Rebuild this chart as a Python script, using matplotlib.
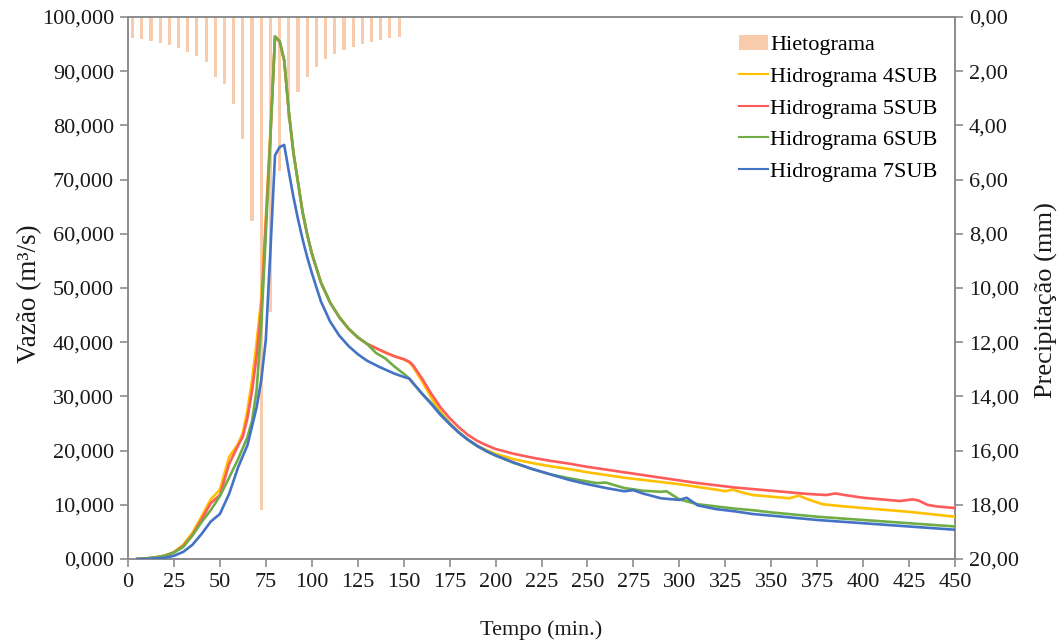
import matplotlib
matplotlib.use("Agg")
import matplotlib.pyplot as plt
from matplotlib.ticker import FuncFormatter, MultipleLocator
from matplotlib.patches import Patch
from matplotlib.lines import Line2D

# Hyetograph (5-min blocks, mm)
rain_time = [2.5, 7.5, 12.5, 17.5, 22.5, 27.5, 32.5, 37.5, 42.5, 47.5,
             52.5, 57.5, 62.5, 67.5, 72.5, 77.5, 82.5, 87.5, 92.5, 97.5,
             102.5, 107.5, 112.5, 117.5, 122.5, 127.5, 132.5, 137.5, 142.5, 147.5]
rain_mm = [0.76, 0.82, 0.89, 0.97, 1.03, 1.16, 1.28, 1.44, 1.67, 2.23,
           2.47, 3.21, 4.51, 7.51, 18.19, 10.89, 5.69, 3.78, 2.78, 2.23,
           1.83, 1.55, 1.37, 1.22, 1.09, 0.98, 0.91, 0.84, 0.79, 0.74]

# Hydrographs (time in min, discharge in m³/s)
t_4sub = [5, 10, 15, 20, 25, 30, 35, 40, 45, 50, 55, 60, 62.5, 65, 67.5, 70, 72.5, 75, 77.5, 80,
          82.5, 85, 87.5, 90, 92.5, 95, 97.5, 100, 105, 110, 115, 120, 125, 130, 135, 140, 145,
          150, 153, 155, 160, 165, 170, 175, 180, 185, 190, 195, 200, 210, 220, 230, 240, 250,
          260, 270, 280, 290, 300, 310, 320, 325, 329, 335, 340, 350, 360, 365, 370, 378, 390,
          400, 425, 450]
q_4sub = [0, 0.1, 0.3, 0.6, 1.3, 2.6, 4.8, 7.8, 11.0, 12.8, 18.8, 21.3, 23.3, 27.5, 33, 40, 48,
          63, 79, 96.4, 95.5, 92, 82.5, 75, 69.5, 64, 59.9, 56.4, 51, 47.3, 44.6, 42.5, 40.9, 39.7,
          38.9, 38.1, 37.4, 36.8, 36.3, 35.5, 32.8, 29.8, 27.2, 25.1, 23.4, 22.0, 20.9, 20.1, 19.4,
          18.4, 17.7, 17.1, 16.6, 16.0, 15.5, 15.0, 14.6, 14.2, 13.8, 13.3, 12.8, 12.5, 12.8, 12.2,
          11.8, 11.5, 11.2, 11.7, 11.0, 10.1, 9.7, 9.4, 8.7, 7.8]

t_5sub = [5, 10, 15, 20, 25, 30, 35, 40, 45, 50, 55, 60, 62.5, 65, 67.5, 70, 72.5, 75, 77.5, 80,
          82.5, 85, 87.5, 90, 92.5, 95, 97.5, 100, 105, 110, 115, 120, 125, 130, 135, 140, 145,
          150, 153, 155, 160, 165, 170, 175, 180, 185, 190, 195, 200, 210, 220, 230, 240, 250,
          260, 270, 280, 290, 300, 310, 320, 330, 340, 350, 360, 370, 380, 385, 390, 400, 410,
          420, 427, 430, 435, 440, 450]
q_5sub = [0, 0.1, 0.3, 0.6, 1.2, 2.4, 4.4, 7.3, 10.3, 11.8, 17.5, 21.0, 22.6, 26, 31, 37.5, 46,
          62, 78, 96.4, 95.5, 92, 82.5, 75, 69.5, 64, 59.9, 56.4, 51, 47.3, 44.6, 42.5, 40.9, 39.7,
          38.9, 38.1, 37.4, 36.9, 36.4, 35.8, 33.3, 30.5, 28.0, 26.0, 24.3, 22.9, 21.8, 21.0, 20.3,
          19.4, 18.7, 18.1, 17.6, 17.0, 16.5, 16.0, 15.5, 15.0, 14.5, 14.0, 13.6, 13.2, 12.9, 12.6,
          12.3, 12.0, 11.8, 12.1, 11.8, 11.3, 11.0, 10.7, 11.0, 10.8, 10.0, 9.7, 9.4]

t_6sub = [5, 10, 15, 20, 25, 30, 35, 40, 45, 50, 55, 60, 65, 67.5, 70, 72.5, 75, 77.5, 80, 82.5,
          85, 87.5, 90, 92.5, 95, 97.5, 100, 105, 110, 115, 120, 125, 130, 135, 140, 145, 150,
          153, 155, 160, 165, 170, 175, 180, 185, 190, 195, 200, 210, 220, 230, 240, 250, 255,
          260, 265, 270, 280, 290, 293, 300, 310, 320, 330, 340, 350, 375, 400, 425, 450]
q_6sub = [0, 0.1, 0.3, 0.6, 1.2, 2.2, 4.3, 6.8, 9.0, 11.6, 15.0, 18.5, 22.5, 25.5, 31.2, 43, 60,
          78, 96.4, 95.5, 92, 82.5, 75, 69.5, 64, 59.9, 56.4, 51, 47.3, 44.6, 42.5, 40.9, 39.7,
          38.0, 37.0, 35.5, 34.2, 33.3, 32.5, 30.5, 28.8, 26.8, 25.0, 23.4, 22.0, 20.8, 19.9, 19.1,
          17.7, 16.6, 15.6, 14.9, 14.3, 14.0, 14.1, 13.6, 13.1, 12.6, 12.4, 12.5, 11.0, 10.1, 9.7,
          9.3, 9.0, 8.6, 7.8, 7.2, 6.6, 6.0]

t_7sub = [5, 10, 15, 20, 25, 30, 35, 40, 45, 50, 55, 60, 65, 70, 72.5, 75, 77.5, 80, 82.5, 85,
          87.5, 90, 92.5, 95, 97.5, 100, 105, 110, 115, 120, 125, 130, 137, 145, 150, 153, 155,
          160, 165, 170, 175, 180, 185, 190, 195, 200, 210, 220, 230, 240, 250, 260, 270, 275,
          280, 290, 300, 304, 310, 320, 330, 340, 350, 375, 400, 425, 450]
q_7sub = [0, 0, 0.1, 0.2, 0.6, 1.3, 2.6, 4.6, 6.9, 8.3, 12.0, 17.0, 21.0, 28.0, 33, 40.5, 57,
          74.5, 76.0, 76.4, 71.5, 66.8, 62.7, 59.0, 55.7, 52.8, 47.5, 43.8, 41.2, 39.3, 37.8, 36.6,
          35.4, 34.2, 33.6, 33.3, 32.5, 30.5, 28.6, 26.6, 24.9, 23.3, 22.0, 20.9, 19.9, 19.1, 17.8,
          16.6, 15.6, 14.6, 13.8, 13.1, 12.5, 12.7, 12.1, 11.2, 10.9, 11.3, 9.9, 9.2, 8.8, 8.3,
          8.0, 7.2, 6.6, 6.0, 5.4]

x_ticks = list(range(0, 451, 25))

plt.rcParams["font.family"] = ["Liberation Serif", "DejaVu Serif"]
plt.rcParams["font.size"] = 16

GRAY = "#8c8c8c"
BAR = "#F8CBAD"
TXT = "#1a1a1a"
C4, C5, C6, C7 = "#FFC000", "#FF5B5B", "#70AD47", "#4472C4"

fig = plt.figure(figsize=(10.62, 6.44), dpi=100)
ax = fig.add_axes([128 / 1062, 1 - 559 / 644, (955 - 128) / 1062, (559 - 17) / 644])
ax2 = ax.twinx()

# rainfall on the secondary axis, hanging from the top
ax2.bar(rain_time, rain_mm, width=1.7, color=BAR, zorder=1)
ax2.set_ylim(20, 0)
ax2.yaxis.set_major_locator(MultipleLocator(2))
ax2.yaxis.set_major_formatter(FuncFormatter(lambda v, p: f"{v:.2f}".replace(".", ",")))

lw = 1.9
ax.plot(t_4sub, q_4sub, color=C4, lw=lw, zorder=3)
ax.plot(t_5sub, q_5sub, color=C5, lw=lw, zorder=3)
ax.plot(t_6sub, q_6sub, color=C6, lw=lw, zorder=3)
ax.plot(t_7sub, q_7sub, color=C7, lw=lw, zorder=3)

ax.set_zorder(ax2.get_zorder() + 1)
ax.patch.set_visible(False)

ax.set_xlim(0, 450)
ax.set_ylim(0, 100)
ax.set_xticks(x_ticks)
ax.yaxis.set_major_locator(MultipleLocator(10))
ax.yaxis.set_major_formatter(FuncFormatter(lambda v, p: f"{v:.3f}".replace(".", ",")))

for a in (ax, ax2):
    for s in a.spines.values():
        s.set_color(GRAY)
        s.set_linewidth(1.2)
    a.tick_params(color=GRAY, length=6, width=1.2, labelcolor=TXT, pad=4)

# axis titles
fig.text(541 / 1062, 1 - 630 / 644, "Tempo (min.)", ha="center", va="center",
         fontsize=16, color=TXT)
fig.text(30 / 1062, 1 - 294 / 644, "Vazão (m³/s)", ha="center", va="center",
         rotation=90, fontsize=19.5, color=TXT)
fig.text(1046 / 1062, 1 - 300 / 644, "Precipitação (mm)", ha="center", va="center",
         rotation=90, fontsize=19, color=TXT)

handles = [
    Patch(facecolor=BAR, edgecolor="none", label="Hietograma"),
    Line2D([], [], color=C4, lw=1.5, label="Hidrograma 4SUB"),
    Line2D([], [], color=C5, lw=1.5, label="Hidrograma 5SUB"),
    Line2D([], [], color=C6, lw=1.5, label="Hidrograma 6SUB"),
    Line2D([], [], color=C7, lw=1.5, label="Hidrograma 7SUB"),
]
ax.legend(handles=handles, loc="upper right", bbox_to_anchor=(0.995, 0.992), frameon=False,
          handlelength=1.3, handletextpad=0.1, labelspacing=0.5, borderaxespad=0.2,
          fontsize=16)

fig.savefig("out.png", dpi=100)
